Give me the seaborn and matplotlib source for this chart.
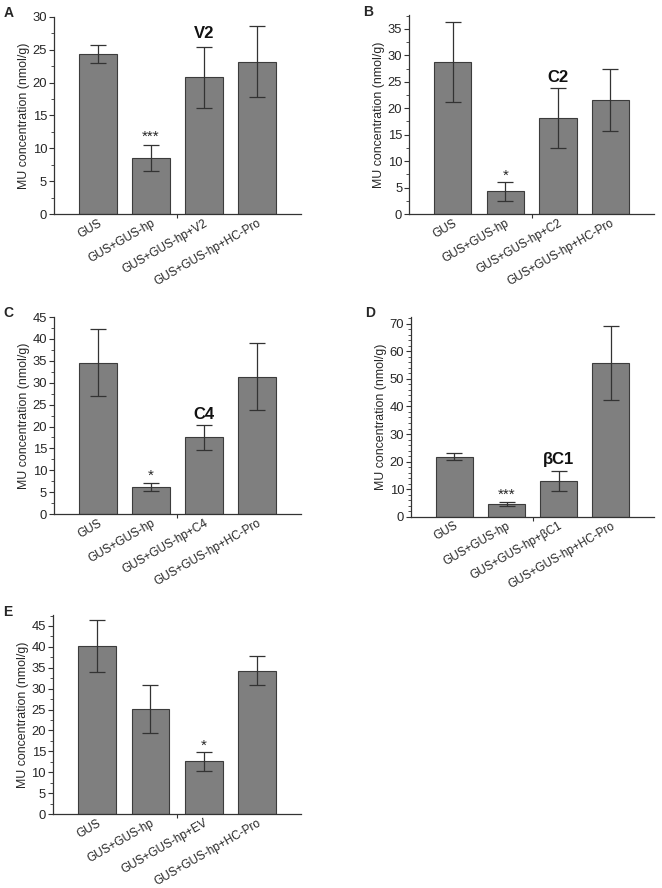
import matplotlib
matplotlib.use("Agg")
import matplotlib.pyplot as plt
from matplotlib.ticker import MultipleLocator, FixedLocator
from matplotlib.transforms import ScaledTranslation
import seaborn as sns
import numpy as np

sns.set_style("ticks")
plt.rcParams['font.family'] = ['Liberation Sans', 'DejaVu Sans']

# panel data (means and error half-widths, nmol/g)
labels_A = ["GUS", "GUS+GUS-hp", "GUS+GUS-hp+V2", "GUS+GUS-hp+HC-Pro"]
means_A = [24.4, 8.5, 20.8, 23.2]
err_A = [1.35, 2.0, 4.6, 5.35]

labels_B = ["GUS", "GUS+GUS-hp", "GUS+GUS-hp+C2", "GUS+GUS-hp+HC-Pro"]
means_B = [28.7, 4.3, 18.1, 21.6]
err_B = [7.6, 1.8, 5.7, 5.9]

labels_C = ["GUS", "GUS+GUS-hp", "GUS+GUS-hp+C4", "GUS+GUS-hp+HC-Pro"]
means_C = [34.6, 6.2, 17.5, 31.4]
err_C = [7.6, 1.0, 2.95, 7.6]

labels_D = ["GUS", "GUS+GUS-hp", "GUS+GUS-hp+βC1", "GUS+GUS-hp+HC-Pro"]
means_D = [21.8, 4.6, 13.0, 55.8]
err_D = [1.2, 0.8, 3.7, 13.5]

labels_E = ["GUS", "GUS+GUS-hp", "GUS+GUS-hp+EV", "GUS+GUS-hp+HC-Pro"]
means_E = [40.2, 25.1, 12.6, 34.3]
err_E = [6.3, 5.75, 2.25, 3.5]

fig = plt.figure(figsize=(6.62, 8.88), dpi=100)
fig.patch.set_facecolor('white')

DARK = '#333333'
TXT = '#262626'
FS = 8.5


def panel(rect, letter, labels, means, errs, ymax, major, minor,
          star_idx, stars, star_y, tag_idx=None, tag=None, tag_y=None):
    ax = fig.add_axes(rect)
    sns.barplot(x=labels, y=means, color='#7f7f7f', edgecolor='#3c3c3c',
                linewidth=0.8, width=0.71, saturation=1, ax=ax)
    ax.errorbar(np.arange(len(means)), means, yerr=errs, fmt='none',
                ecolor=DARK, elinewidth=0.9, capsize=6, capthick=0.9)
    ax.set_xlim(-0.83, 3.83)
    ax.set_ylim(0, ymax)
    ax.yaxis.set_major_locator(MultipleLocator(major))
    ax.yaxis.set_minor_locator(MultipleLocator(minor))
    ax.xaxis.set_major_locator(FixedLocator(range(4)))
    ax.xaxis.set_minor_locator(FixedLocator([1.5]))
    ax.set_xticklabels(labels, rotation=30, ha='right', va='top',
                       rotation_mode='anchor', fontsize=FS, color=TXT)
    shift = ScaledTranslation(0.045, 0, fig.dpi_scale_trans)
    for lbl in ax.get_xticklabels():
        lbl.set_transform(lbl.get_transform() + shift)
    ax.tick_params(axis='x', which='major', length=0, pad=2.2)
    ax.tick_params(axis='x', which='minor', length=3, width=0.8, color=DARK)
    ax.tick_params(axis='y', which='major', length=3.5, width=0.8, color=DARK,
                   labelsize=9.4, labelcolor=TXT, pad=1.5)
    ax.tick_params(axis='y', which='minor', length=2, width=0.6, color=DARK)
    ax.set_ylabel("MU concentration (nmol/g)", fontsize=8.9, color=TXT,
                  labelpad=2)
    sns.despine(ax=ax)
    for s in ['left', 'bottom']:
        ax.spines[s].set_color(DARK)
        ax.spines[s].set_linewidth(0.9)
    ax.text(star_idx, star_y, stars, ha='center', va='center',
            fontsize=11, color=TXT)
    if tag is not None:
        ax.text(tag_idx, tag_y, tag, ha='center', va='center',
                fontsize=12, fontweight='bold', color='#111111')
    x0 = rect[0]
    y1 = rect[1] + rect[3]
    fig.text(x0 - 0.069 if x0 < 0.5 else x0 - 0.062, y1 + 0.004, letter,
             fontsize=10, fontweight='bold', ha='center', va='center')
    return ax


panel([0.0816, 0.759, 0.373, 0.222], "A", labels_A, means_A, err_A,
      30, 5, 2.5, 1, "***", 11.8, 2, "V2", 27.5)
panel([0.618, 0.759, 0.370, 0.224], "B", labels_B, means_B, err_B,
      37.6, 5, 2.5, 1, "*", 7.3, 2, "C2", 25.8)
panel([0.0816, 0.421, 0.373, 0.222], "C", labels_C, means_C, err_C,
      45, 5, 2.5, 1, "*", 8.7, 2, "C4", 22.7)
panel([0.621, 0.418, 0.367, 0.225], "D", labels_D, means_D, err_D,
      72.4, 10, 2, 1, "***", 7.9, 2, "βC1", 20.8)
panel([0.080, 0.0833, 0.375, 0.224], "E", labels_E, means_E, err_E,
      47.6, 5, 2.5, 2, "*", 16.3)

fig.savefig("out.png", dpi=100, facecolor='white')
